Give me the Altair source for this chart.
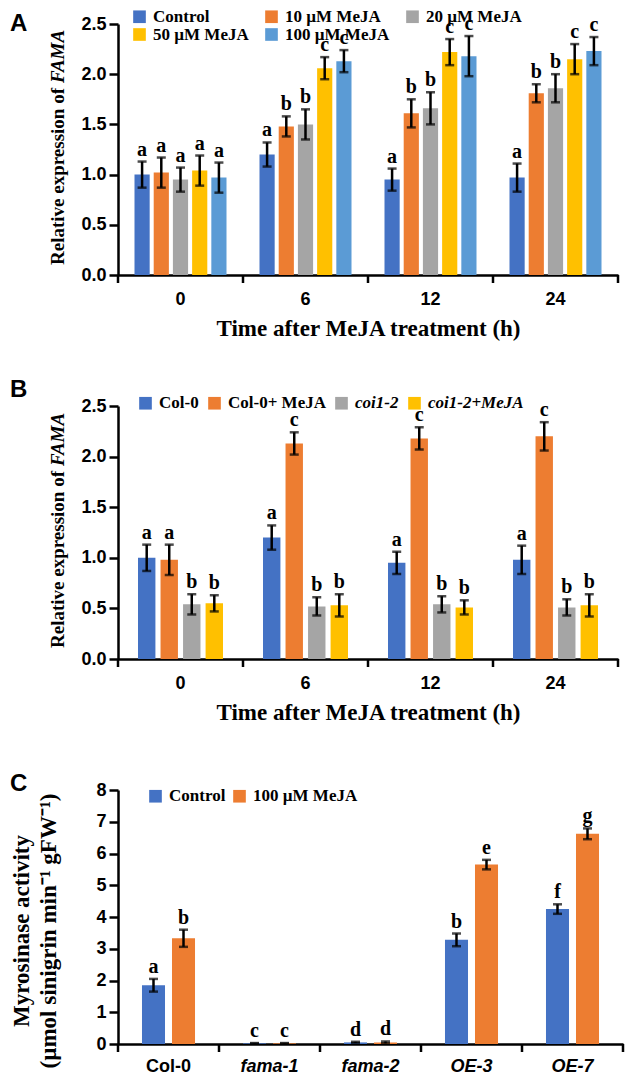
import altair as alt
import pandas as pd

SANS = "Liberation Sans"
SERIF = "Liberation Serif"

# ---------------- Panel A ----------------
times = ["0", "6", "12", "24"]
a_series = ["Control", "10 µM MeJA", "20 µM MeJA", "50 µM MeJA", "100 µM MeJA"]
a_colors = ["#4472C4", "#ED7D31", "#A5A5A5", "#FFC000", "#5B9BD5"]
a_control = [1.00, 1.20, 0.95, 0.97]
a_10 = [1.02, 1.48, 1.61, 1.81]
a_20 = [0.95, 1.50, 1.66, 1.86]
a_50 = [1.04, 2.06, 2.22, 2.15]
a_100 = [0.97, 2.13, 2.18, 2.23]
a_control_err = [0.13, 0.12, 0.11, 0.14]
a_10_err = [0.15, 0.10, 0.14, 0.09]
a_20_err = [0.12, 0.15, 0.16, 0.14]
a_50_err = [0.15, 0.11, 0.13, 0.15]
a_100_err = [0.15, 0.11, 0.20, 0.14]
a_control_sig = ["a", "a", "a", "a"]
a_10_sig = ["a", "b", "b", "b"]
a_20_sig = ["a", "b", "b", "b"]
a_50_sig = ["a", "c", "c", "c"]
a_100_sig = ["a", "c", "c", "c"]

# ---------------- Panel B ----------------
b_series = ["Col-0", "Col-0+ MeJA", "coi1-2", "coi1-2+MeJA"]
b_colors = ["#4472C4", "#ED7D31", "#A5A5A5", "#FFC000"]
b_col0 = [1.00, 1.20, 0.95, 0.98]
b_col0_meja = [0.98, 2.13, 2.18, 2.20]
b_coi = [0.54, 0.52, 0.54, 0.51]
b_coi_meja = [0.55, 0.53, 0.51, 0.53]
b_col0_err = [0.13, 0.12, 0.11, 0.14]
b_col0_meja_err = [0.15, 0.11, 0.11, 0.14]
b_coi_err = [0.10, 0.09, 0.08, 0.08]
b_coi_meja_err = [0.08, 0.11, 0.07, 0.11]
b_col0_sig = ["a", "a", "a", "a"]
b_col0_meja_sig = ["a", "c", "c", "c"]
b_coi_sig = ["b", "b", "b", "b"]
b_coi_meja_sig = ["b", "b", "b", "b"]

# ---------------- Panel C ----------------
genotypes = ["Col-0", "fama-1", "fama-2", "OE-3", "OE-7"]
c_series = ["Control", "100 µM MeJA"]
c_colors = ["#4472C4", "#ED7D31"]
c_control = [1.85, 0.02, 0.05, 3.28, 4.25]
c_meja = [3.33, 0.02, 0.05, 5.65, 6.62]
c_control_err = [0.20, 0.01, 0.02, 0.20, 0.15]
c_meja_err = [0.27, 0.01, 0.03, 0.15, 0.17]
c_control_sig = ["a", "c", "d", "b", "f"]
c_meja_sig = ["b", "c", "d", "e", "g"]


def build_df(cats, series, means, errs, sigs):
    rows = []
    for s, m, e, g in zip(series, means, errs, sigs):
        for c, mv, ev, gv in zip(cats, m, e, g):
            rows.append({"cat": c, "series": s, "mean": mv,
                         "lo": mv - ev, "hi": mv + ev, "sig": gv})
    return pd.DataFrame(rows)


df_a = build_df(times, a_series, [a_control, a_10, a_20, a_50, a_100],
                [a_control_err, a_10_err, a_20_err, a_50_err, a_100_err],
                [a_control_sig, a_10_sig, a_20_sig, a_50_sig, a_100_sig])
df_b = build_df(times, b_series, [b_col0, b_col0_meja, b_coi, b_coi_meja],
                [b_col0_err, b_col0_meja_err, b_coi_err, b_coi_meja_err],
                [b_col0_sig, b_col0_meja_sig, b_coi_sig, b_coi_meja_sig])
df_c = build_df(genotypes, c_series, [c_control, c_meja],
                [c_control_err, c_meja_err],
                [c_control_sig, c_meja_sig])


def txt(text, x, y, **kw):
    return alt.Chart(pd.DataFrame({"t": [text]})).mark_text(**kw).encode(
        x=alt.value(x), y=alt.value(y), text="t:N")


def panel(df, cats, series, colors, W, H, ymax, yticks, yfmt, pi, opi,
          legend, xaxis, extra):
    n = len(cats)
    xenc = alt.X("cat:N", scale=alt.Scale(domain=cats, paddingInner=pi,
                                          paddingOuter=pi / 2), axis=xaxis)
    xo = alt.XOffset("series:N", scale=alt.Scale(domain=series,
                                                  paddingInner=opi,
                                                  paddingOuter=0))
    yscale = alt.Scale(domain=[0, ymax], nice=False, zero=True)
    yaxis = alt.Axis(values=yticks, format=yfmt, title=None, grid=False,
                     tickSize=9, tickWidth=2.5, tickColor="black",
                     domainColor="black", domainWidth=2.5,
                     labelFont=SANS, labelFontWeight="bold", labelFontSize=18,
                     labelColor="black", labelPadding=3)
    base = alt.Chart(df)
    bars = base.mark_bar().encode(
        x=xenc, xOffset=xo,
        y=alt.Y("mean:Q", scale=yscale, axis=yaxis),
        color=alt.Color("series:N", scale=alt.Scale(domain=series, range=colors),
                        legend=legend),
    )
    err = base.mark_rule(color="black", strokeWidth=2.5).encode(
        x=xenc, xOffset=xo,
        y=alt.Y("lo:Q", scale=yscale, axis=yaxis), y2="hi:Q")
    cap_lo = base.mark_tick(orient="horizontal", size=9, thickness=2.5,
                            color="black").encode(
        x=xenc, xOffset=xo, y=alt.Y("lo:Q", scale=yscale, axis=yaxis))
    cap_hi = base.mark_tick(orient="horizontal", size=9, thickness=2.5,
                            color="black").encode(
        x=xenc, xOffset=xo, y=alt.Y("hi:Q", scale=yscale, axis=yaxis))
    letters = base.mark_text(font=SERIF, fontWeight="bold", fontSize=20,
                             baseline="bottom", dy=-2, color="black").encode(
        x=xenc, xOffset=xo, y=alt.Y("hi:Q", scale=yscale, axis=yaxis),
        text="sig:N")
    step = W / n
    tick_rules = alt.Chart(pd.DataFrame({"cat": cats})).mark_rule(
        color="black", strokeWidth=2.5, xOffset=-step / 2).encode(
        x=xenc, y=alt.value(H), y2=alt.value(H + 8))
    end_rule = alt.Chart(pd.DataFrame({"cat": [cats[-1]]})).mark_rule(
        color="black", strokeWidth=2.5, xOffset=step / 2).encode(
        x=xenc, y=alt.value(H), y2=alt.value(H + 8))
    return alt.layer(bars, err, cap_lo, cap_hi, letters, tick_rules, end_rule,
                     *extra).properties(width=W, height=H)


def time_axis():
    return alt.Axis(title="Time after MeJA treatment (h)", ticks=False,
                    labelAngle=0, labelFont=SANS, labelFontWeight="bold",
                    labelFontSize=18, labelColor="black", labelPadding=15,
                    domainColor="black", domainWidth=2.5,
                    titleFont=SERIF, titleFontWeight="bold", titleFontSize=23,
                    titleColor="black", titlePadding=9)


legend_common = dict(orient="none", direction="horizontal", title=None,
                     symbolType="square", symbolSize=160, symbolStrokeWidth=0,
                     symbolOpacity=1, labelFont=SERIF, labelFontWeight="bold",
                     labelFontSize=17, labelColor="black", labelOffset=5,
                     padding=0, labelLimit=0)

yt_ab = [0, 0.5, 1.0, 1.5, 2.0, 2.5]

chart_a = panel(
    df_a, times, a_series, a_colors, 500, 251, 2.5, yt_ab, ".1f", 0.264, 0.21,
    alt.Legend(legendX=13, legendY=-16, columns=3, columnPadding=14,
               rowPadding=0, **legend_common),
    time_axis(),
    [
        txt("A", -108, 0, font=SANS, fontWeight="bold", fontSize=24,
            align="left", baseline="middle", color="black"),
        txt("Relative expression of", -60, 64, angle=270, align="right",
            baseline="middle", font=SERIF, fontWeight="bold", fontSize=19,
            color="black"),
        txt("FAMA", -60, 59, angle=270, align="left", baseline="middle",
            font=SERIF, fontWeight="bold", fontStyle="italic", fontSize=19,
            color="black"),
    ],
)

chart_b = panel(
    df_b, times, b_series, b_colors, 500, 253, 2.5, yt_ab, ".1f", 0.32, 0.227,
    alt.Legend(legendX=19, legendY=-11.5, columns=4, columnPadding=7,
               labelFontStyle={"expr": "indexof(datum.label, 'coi') == 0 ? 'italic' : 'normal'"},
               **legend_common),
    time_axis(),
    [
        txt("B", -108, -16, font=SANS, fontWeight="bold", fontSize=24,
            align="left", baseline="middle", color="black"),
        txt("Relative expression of", -60, 65, angle=270, align="right",
            baseline="middle", font=SERIF, fontWeight="bold", fontSize=19,
            color="black"),
        txt("FAMA", -60, 60, angle=270, align="left", baseline="middle",
            font=SERIF, fontWeight="bold", fontStyle="italic", fontSize=19,
            color="black"),
    ],
)

c_axis = alt.Axis(title=None, ticks=False, labelAngle=0, labelFont=SANS,
                  labelFontWeight="bold", labelFontSize=18, labelColor="black",
                  labelPadding=13, domainColor="black", domainWidth=2.5,
                  labelFontStyle={"condition": {"test": "datum.value == 'Col-0'",
                                                "value": "normal"},
                                  "value": "italic"})

chart_c = panel(
    df_c, genotypes, c_series, c_colors, 505, 254, 8, list(range(0, 9)), "d",
    0.475, 0.233,
    alt.Legend(legendX=29, legendY=-2.5, columns=2, columnPadding=5,
               **legend_common),
    c_axis,
    [
        txt("C", -108, -6, font=SANS, fontWeight="bold", fontSize=24,
            align="left", baseline="middle", color="black"),
        txt("Myrosinase activity", -96, 141, angle=270, align="center",
            baseline="middle", font=SERIF, fontWeight="bold", fontSize=23,
            color="black"),
        txt("(µmol sinigrin min⁻¹ gFW⁻¹)", -69, 141, angle=270,
            align="center", baseline="middle", font=SERIF, fontWeight="bold",
            fontSize=23, color="black"),
    ],
)

chart = alt.vconcat(chart_a, chart_b, chart_c, spacing=131, bounds="flush").resolve_scale(
    color="independent", x="independent", y="independent", xOffset="independent"
).properties(
    padding={"left": 2, "top": 0, "right": 0, "bottom": 0}, background="white"
).configure_view(stroke=None)

chart.save("out.html", embed_options={"renderer": "svg", "actions": False})
